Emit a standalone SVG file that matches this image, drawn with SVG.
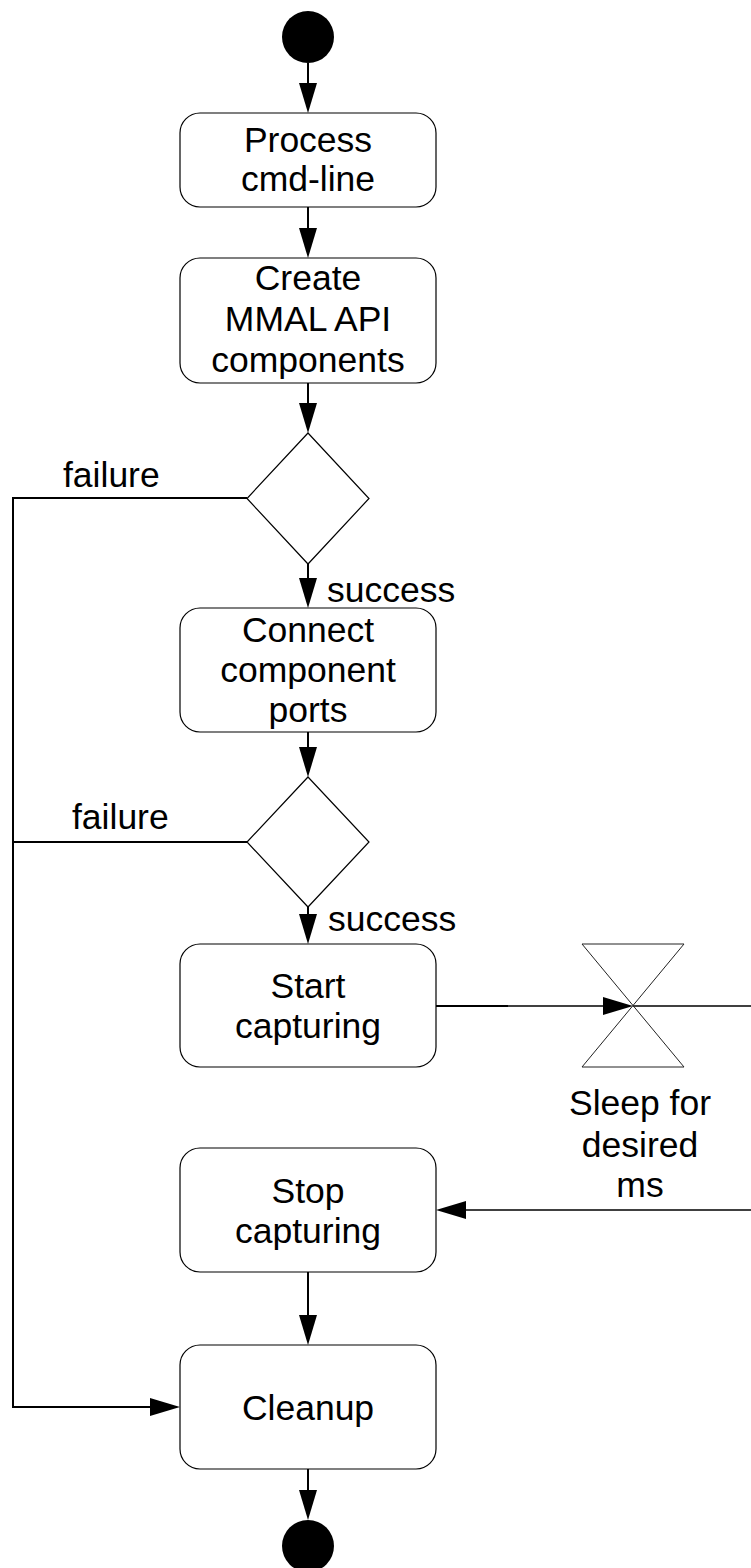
<svg xmlns="http://www.w3.org/2000/svg" width="751" height="1568" viewBox="0 0 751 1568">
  <style>
    .box { fill: #ffffff; stroke: #000000; stroke-width: 1.2; }
    .dec { fill: #ffffff; stroke: #000000; stroke-width: 1.2; }
    .wait { fill: none; stroke: #222222; stroke-width: 1; }
    .term { fill: #000000; }
    .edge { fill: none; stroke: #000000; stroke-width: 2; }
    .edge-thin { fill: none; stroke: #000000; stroke-width: 1.5; }
    text { font-family: "Liberation Sans", Arial, sans-serif; font-size: 35.5px; fill: #000000; }
    .c { text-anchor: middle; }
  </style>
  <defs>
    <marker id="arrow" markerUnits="userSpaceOnUse" markerWidth="30" markerHeight="18" refX="0" refY="9" orient="auto" overflow="visible">
      <path d="M0,0 L30,9 L0,18 Z" fill="#000000"/>
    </marker>
  </defs>
  <rect width="751" height="1568" fill="#ffffff"/>

  <g id="connectors">
    <path class="edge" d="M308,63 V83" marker-end="url(#arrow)"/>
    <path class="edge" d="M308,207 V228" marker-end="url(#arrow)"/>
    <path class="edge" d="M308,383 V403" marker-end="url(#arrow)"/>
    <path class="edge" d="M308,564 V578" marker-end="url(#arrow)"/>
    <path class="edge" d="M308,732 V747" marker-end="url(#arrow)"/>
    <path class="edge" d="M308,907 V914" marker-end="url(#arrow)"/>
    <path class="edge" d="M436,1006 H508"/>
    <path class="edge-thin" d="M507,1006 H603" marker-end="url(#arrow)"/>
    <path class="edge-thin" d="M633,1006 H751"/>
    <path class="edge-thin" d="M751,1210 H466" marker-end="url(#arrow)"/>
    <path class="edge" d="M308,1272 V1315" marker-end="url(#arrow)"/>
    <path class="edge" d="M308,1469 V1490" marker-end="url(#arrow)"/>
    <path class="edge" d="M247,498 H13 V1407 H150" marker-end="url(#arrow)"/>
    <path class="edge" d="M247,842 H13"/>
    <text x="63" y="487">failure</text>
    <text x="327" y="602">success</text>
    <text x="72" y="829">failure</text>
    <text x="328" y="931">success</text>
  </g>

  <g id="start">
    <circle class="term" cx="308" cy="37" r="26"/>
  </g>

  <g id="process-cmd-line">
    <rect class="box" x="180" y="113" width="256" height="94" rx="20" ry="20"/>
    <text class="c" x="308" y="152">Process</text>
    <text class="c" x="308" y="191">cmd-line</text>
  </g>

  <g id="create-components">
    <rect class="box" x="180" y="258" width="256" height="125" rx="20" ry="20"/>
    <text class="c" x="308" y="290">Create</text>
    <text class="c" x="308" y="331">MMAL API</text>
    <text class="c" x="308" y="372">components</text>
  </g>

  <g id="decision-create">
    <polygon class="dec" points="308,433 369,498.5 308,564 247,498.5"/>
  </g>

  <g id="connect-ports">
    <rect class="box" x="180" y="608" width="256" height="124" rx="20" ry="20"/>
    <text class="c" x="308" y="642">Connect</text>
    <text class="c" x="308" y="682">component</text>
    <text class="c" x="308" y="722">ports</text>
  </g>

  <g id="decision-connect">
    <polygon class="dec" points="308,777 369,842 308,907 247,842"/>
  </g>

  <g id="start-capturing">
    <rect class="box" x="180" y="944" width="256" height="123" rx="20" ry="20"/>
    <text class="c" x="308" y="998">Start</text>
    <text class="c" x="308" y="1038">capturing</text>
  </g>

  <g id="sleep">
    <path class="wait" d="M582,944 H684 L582,1067 H684 Z"/>
    <text class="c" x="640" y="1115">Sleep for</text>
    <text class="c" x="640" y="1157">desired</text>
    <text class="c" x="640" y="1197">ms</text>
  </g>

  <g id="stop-capturing">
    <rect class="box" x="180" y="1148" width="256" height="124" rx="20" ry="20"/>
    <text class="c" x="308" y="1203">Stop</text>
    <text class="c" x="308" y="1243">capturing</text>
  </g>

  <g id="cleanup">
    <rect class="box" x="180" y="1345" width="256" height="124" rx="20" ry="20"/>
    <text class="c" x="308" y="1420">Cleanup</text>
  </g>

  <g id="end">
    <circle class="term" cx="308" cy="1546" r="26"/>
  </g>
</svg>
